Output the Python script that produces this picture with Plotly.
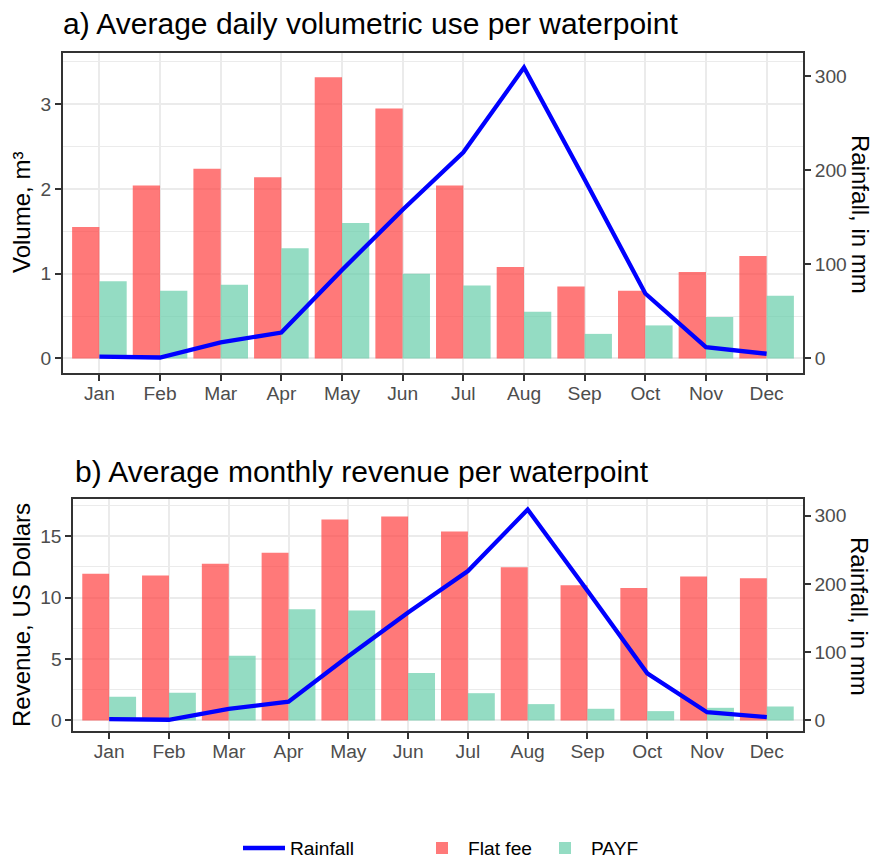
import plotly.graph_objects as go

# ---------------- data ----------------
months = ["Jan", "Feb", "Mar", "Apr", "May", "Jun", "Jul", "Aug", "Sep", "Oct", "Nov", "Dec"]
flat_volume = [1.55, 2.04, 2.24, 2.14, 3.32, 2.95, 2.04, 1.08, 0.85, 0.80, 1.02, 1.21]
payf_volume = [0.91, 0.80, 0.87, 1.30, 1.60, 1.00, 0.86, 0.55, 0.29, 0.39, 0.49, 0.74]
flat_revenue = [11.95, 11.79, 12.76, 13.66, 16.36, 16.60, 15.38, 12.46, 11.00, 10.79, 11.71, 11.57]
payf_revenue = [1.92, 2.25, 5.27, 9.06, 8.95, 3.87, 2.22, 1.33, 0.95, 0.76, 1.03, 1.14]
rainfall = [2, 1, 17, 27.5, 94, 158, 219, 309, 190, 69, 12, 5]

vol_ticks = [0, 1, 2, 3]
rev_ticks = [0, 5, 10, 15]
rain_ticks = [0, 100, 200, 300]
vol_scale = 90   # mm of rainfall per m3 on the secondary axis
rev_scale = 18   # mm of rainfall per US dollar on the secondary axis

# ---------------- style ----------------
FONT = "Liberation Sans, Arial, sans-serif"
FLAT_COL = "rgba(255,64,64,0.7)"
PAYF_COL = "rgba(102,205,170,0.7)"
LINE_COL = "#0000FF"
GRID = "#EBEBEB"
BORDER = "#333333"
TICKFONT = dict(family=FONT, size=19.2, color="#4D4D4D")

W, H = 875, 862


def px_x(p):
    return p / W


def px_y(p):
    return 1 - p / H


def padded(vals, scale):
    top = max(max(v) for v in vals[:-1])
    top = max(top, max(vals[-1]) / scale)
    pad = 0.05 * top
    return [-pad, top + pad]


vol_range = padded([flat_volume, payf_volume, rainfall], vol_scale)
rev_range = padded([flat_revenue, payf_revenue, rainfall], rev_scale)

fig = go.Figure()

# top panel
fig.add_trace(go.Bar(x=months, y=flat_volume, name="Flat fee", marker=dict(color=FLAT_COL, line=dict(width=0)),
                     offsetgroup="flat", xaxis="x", yaxis="y", legend="legend2", showlegend=True))
fig.add_trace(go.Bar(x=months, y=payf_volume, name="PAYF", marker=dict(color=PAYF_COL, line=dict(width=0)),
                     offsetgroup="payf", xaxis="x", yaxis="y", legend="legend2", showlegend=True))
fig.add_trace(go.Scatter(x=months, y=rainfall, name="Rainfall", mode="lines",
                         line=dict(color=LINE_COL, width=4.3), xaxis="x", yaxis="y2", legend="legend", showlegend=True))
# bottom panel
fig.add_trace(go.Bar(x=months, y=flat_revenue, name="Flat fee", marker=dict(color=FLAT_COL, line=dict(width=0)),
                     offsetgroup="flat", xaxis="x2", yaxis="y3", showlegend=False))
fig.add_trace(go.Bar(x=months, y=payf_revenue, name="PAYF", marker=dict(color=PAYF_COL, line=dict(width=0)),
                     offsetgroup="payf", xaxis="x2", yaxis="y3", showlegend=False))
fig.add_trace(go.Scatter(x=months, y=rainfall, name="Rainfall", mode="lines",
                         line=dict(color=LINE_COL, width=4.3), xaxis="x2", yaxis="y4", showlegend=False))


def xaxis(domain, anchor):
    return dict(domain=domain, anchor=anchor, type="category", categoryorder="array", categoryarray=months,
                range=[-0.6, len(months) - 0.4], showgrid=True, gridcolor=GRID, gridwidth=2,
                showline=True, mirror=True, linecolor=BORDER, linewidth=1.8,
                ticks="outside", ticklen=6, tickwidth=1.8, tickcolor=BORDER, tickfont=TICKFONT,
                ticklabelstandoff=-4,
                zeroline=False, automargin=False, fixedrange=True)


def yaxis(domain, anchor, rng, ticks, minor_step):
    return dict(domain=domain, anchor=anchor, range=rng, tickvals=ticks, showgrid=True, gridcolor=GRID,
                gridwidth=2, minor=dict(dtick=minor_step, tick0=0, showgrid=True, gridcolor=GRID, gridwidth=1.1),
                showline=True, mirror=True, linecolor=BORDER, linewidth=1.8,
                ticks="outside", ticklen=6, tickwidth=1.8, tickcolor=BORDER, tickfont=TICKFONT,
                zeroline=False, automargin=False, fixedrange=True)


def y2axis(overlay, anchor, rng, ticks):
    return dict(overlaying=overlay, anchor=anchor, side="right", range=rng, tickvals=ticks, showgrid=False,
                showline=True, linecolor=BORDER, linewidth=1.8,
                ticks="outside", ticklen=6, tickwidth=1.8, tickcolor=BORDER, tickfont=TICKFONT,
                zeroline=False, automargin=False, fixedrange=True)


top_dom_y = [px_y(373), px_y(53)]
bot_dom_y = [px_y(731), px_y(499)]

fig.update_layout(
    width=W, height=H, autosize=False,
    margin=dict(l=0, r=0, t=0, b=0, autoexpand=False),
    paper_bgcolor="white", plot_bgcolor="white",
    font=dict(family=FONT, color="black"),
    barmode="group", bargap=0.1, bargroupgap=0,
    xaxis=xaxis([px_x(63), px_x(803)], "y"),
    yaxis=yaxis(top_dom_y, "x", vol_range, vol_ticks, 0.5),
    yaxis2=y2axis("y", "x", [vol_range[0] * vol_scale, vol_range[1] * vol_scale], rain_ticks),
    xaxis2=xaxis([px_x(73.3), px_x(802.7)], "y3"),
    yaxis3=yaxis(bot_dom_y, "x2", rev_range, rev_ticks, 2.5),
    yaxis4=y2axis("y3", "x2", [rev_range[0] * rev_scale, rev_range[1] * rev_scale], rain_ticks),
    legend=dict(orientation="h", x=px_x(238), xanchor="left", y=px_y(848), yanchor="middle",
                itemwidth=42, font=dict(family=FONT, size=19.2, color="black"), bgcolor="rgba(0,0,0,0)"),
    legend2=dict(orientation="h", x=px_x(416), xanchor="left", y=px_y(848), yanchor="middle",
                 itemwidth=42, entrywidth=66, font=dict(family=FONT, size=19.2, color="black"),
                 bgcolor="rgba(0,0,0,0)"),
    annotations=[
        dict(text="a) Average daily volumetric use per waterpoint", x=px_x(61), y=px_y(24), xref="paper", yref="paper",
             xanchor="left", yanchor="middle", showarrow=False, font=dict(family=FONT, size=30, color="black")),
        dict(text="b) Average monthly revenue per waterpoint", x=px_x(73), y=px_y(471), xref="paper", yref="paper",
             xanchor="left", yanchor="middle", showarrow=False, font=dict(family=FONT, size=30, color="black")),
        dict(text="Volume, m³", x=px_x(21), y=px_y(213), xref="paper", yref="paper", textangle=-90,
             xanchor="center", yanchor="middle", showarrow=False, font=dict(family=FONT, size=24, color="black")),
        dict(text="Rainfall, in mm", x=px_x(860), y=px_y(214), xref="paper", yref="paper", textangle=90,
             xanchor="center", yanchor="middle", showarrow=False, font=dict(family=FONT, size=24, color="black")),
        dict(text="Revenue, US Dollars", x=px_x(21), y=px_y(615), xref="paper", yref="paper", textangle=-90,
             xanchor="center", yanchor="middle", showarrow=False, font=dict(family=FONT, size=24, color="black")),
        dict(text="Rainfall, in mm", x=px_x(860), y=px_y(616), xref="paper", yref="paper", textangle=90,
             xanchor="center", yanchor="middle", showarrow=False, font=dict(family=FONT, size=24, color="black")),
    ],
)

fig.write_html("out.html")
